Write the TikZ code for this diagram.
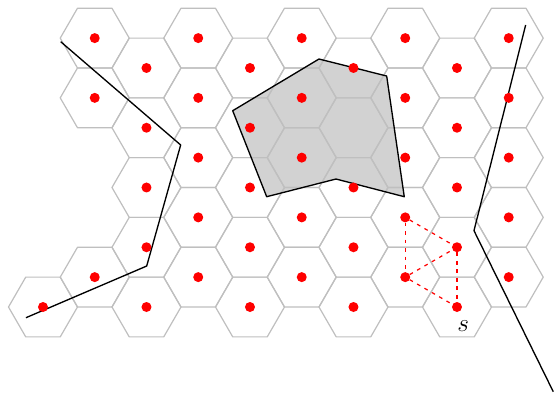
\documentclass[tikz,border=0pt]{standalone}
\usetikzlibrary{calc}

\begin{document}
\begin{tikzpicture}[
    % 1. Grid and markers
    hexcell/.style={draw=gray!50, line width=1pt, line join=round},
    dot/.style={circle, fill=red, inner sep=0pt, minimum size=0.29cm},
    % 2. Paths and regions
    region/.style={fill=gray!35},
    regionedge/.style={draw=black, line width=1.1pt, line join=round},
    track/.style={draw=black, line width=1.1pt, line join=round},
    link/.style={draw=red, line width=1pt, dash pattern=on 3pt off 4pt}
]
\useasboundingbox (-1.246,-2.783) rectangle (14.812,8.899);

% ===============================
% Shaded region (fill only, grid goes over it)
% ===============================
\coordinate (r1) at (5.499,5.690);
\coordinate (r2) at (8.000,7.188);
\coordinate (r3) at (9.962,6.696);
\coordinate (r4) at (10.472,3.197);
\coordinate (r5) at (8.493,3.710);
\coordinate (r6) at (6.484,3.197);
\fill[region] (r1) -- (r2) -- (r3) -- (r4) -- (r5) -- (r6) -- cycle;

% ===============================
% Hexagonal cells: column / rows present
% ===============================
\foreach \c/\rows in {0/{0}, 1/{1,7,9}, 2/{0,2,4,6,8}, 3/{1,3,5,7,9},
                      4/{0,2,4,6,8}, 5/{1,3,5,7,9}, 6/{0,2,4,6,8},
                      7/{1,3,5,7,9}, 8/{0,2,4,6,8}, 9/{1,3,5,7,9}}{
    \foreach \j in \rows {
        \draw[hexcell, shift={({1.5*\c},{0.8660254*\j})}]
            (0:1) -- (60:1) -- (120:1) -- (180:1) -- (240:1) -- (300:1) -- cycle;
    }
}

% Region outline
\draw[regionedge] (r1) -- (r2) -- (r3) -- (r4) -- (r5) -- (r6) -- cycle;

% ===============================
% Two tracks
% ===============================
\coordinate (a1) at (0.513,7.690);
\coordinate (a2) at (3.991,4.696);
\coordinate (a3) at (3.006,1.188);
\coordinate (a4) at (-0.493,-0.310);
\draw[track] (a1) -- (a2) -- (a3) -- (a4);

\coordinate (b1) at (13.991,8.174);
\coordinate (b2) at (12.493,2.212);
\coordinate (b3) at (14.791,-2.455);
\draw[track] (b1) -- (b2) -- (b3);

% ===============================
% Cell centres (cell 6-6 has none)
% ===============================
\foreach \c/\rows in {0/{0}, 1/{1,7,9}, 2/{0,2,4,6,8}, 3/{1,3,5,7,9},
                      4/{0,2,4,6,8}, 5/{1,3,5,7,9}, 6/{0,2,4,8},
                      7/{1,3,5,7,9}, 8/{0,2,4,6,8}, 9/{1,3,5,7,9}}{
    \foreach \j in \rows {
        \node[dot] (d\c-\j) at ({1.5*\c},{0.8660254*\j}) {};
    }
}

% Neighbour links around s
\draw[link] (d7-3) -- (d8-2);
\draw[link] (d7-3) -- (d7-1);
\draw[link] (d7-1) -- (d8-2);
\draw[link] (d7-1) -- (d8-0);
\draw[link] (d8-2) -- (d8-0);

\node[font=\huge] (slabel) at (12.18,-0.54) {$s$};

\end{tikzpicture}
\end{document}
